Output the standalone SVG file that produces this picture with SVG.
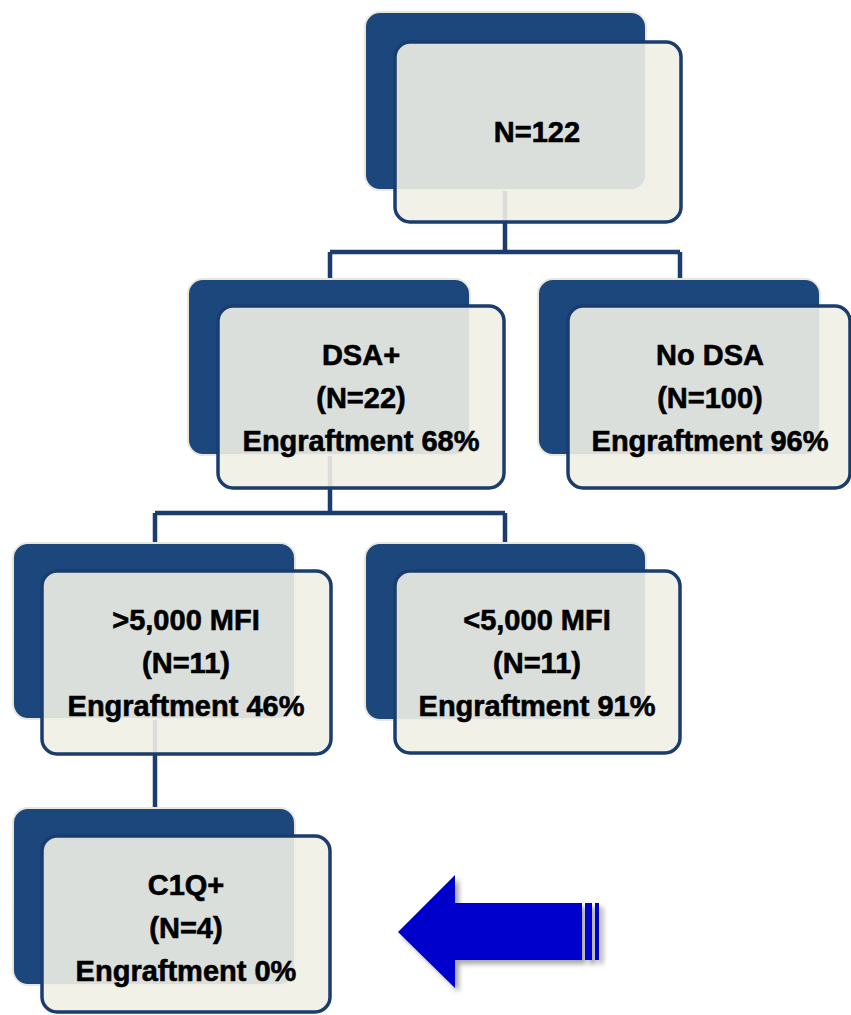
<svg xmlns="http://www.w3.org/2000/svg" width="851" height="1015" viewBox="0 0 851 1015">
<style>
.back{fill:#1C477D;stroke:#E9E7DC;stroke-width:2}
.front{fill:#F1EFE6;fill-opacity:0.9;stroke:#1A3D6E;stroke-width:3.5}
.conn{stroke:#1C3B6E;stroke-width:4.5;fill:none}
.t{font-family:"Liberation Sans",Arial,sans-serif;font-weight:bold;font-size:29px;fill:#000;stroke:#000;stroke-width:0.6;text-anchor:middle}
</style>
<defs>
<filter id="sh" x="-20%" y="-20%" width="140%" height="140%">
<feDropShadow dx="4" dy="4" stdDeviation="2.5" flood-color="#000" flood-opacity="0.35"/>
</filter>
</defs>
<rect width="851" height="1015" fill="#fff"/>
<g id="connectors" class="conn">
<path d="M505,190 V252 M330,252 H680 M330,252 V281 M680,252 V281"/>
<path d="M330,455 V513 M155,513 H505 M155,513 V544 M505,513 V544"/>
<path d="M155,718 V809"/>
</g>
<g id="n122">
<rect class="back" x="365" y="12" width="281" height="178" rx="15"/>
<rect class="front" x="395" y="42" width="286" height="180" rx="15"/>
<text class="t" x="537" y="142">N=122</text>
</g>
<g id="dsa">
<rect class="back" x="188" y="279" width="282" height="176" rx="15"/>
<rect class="front" x="218" y="306" width="286" height="182" rx="15"/>
<text class="t" x="361" y="365">DSA+</text>
<text class="t" x="361" y="408">(N=22)</text>
<text class="t" x="361" y="451">Engraftment 68%</text>
</g>
<g id="nodsa">
<rect class="back" x="538" y="279" width="282" height="176" rx="15"/>
<rect class="front" x="568" y="306" width="282" height="182" rx="15"/>
<text class="t" x="710" y="365">No DSA</text>
<text class="t" x="710" y="408">(N=100)</text>
<text class="t" x="710" y="451">Engraftment 96%</text>
</g>
<g id="gt5000">
<rect class="back" x="13" y="543" width="282" height="176" rx="15"/>
<rect class="front" x="42" y="571" width="289" height="183" rx="15"/>
<text class="t" x="186" y="630">&gt;5,000 MFI</text>
<text class="t" x="186" y="673">(N=11)</text>
<text class="t" x="186" y="716">Engraftment 46%</text>
</g>
<g id="lt5000">
<rect class="back" x="365" y="543" width="281" height="177" rx="15"/>
<rect class="front" x="395" y="571" width="285" height="182" rx="15"/>
<text class="t" x="537" y="630">&lt;5,000 MFI</text>
<text class="t" x="537" y="673">(N=11)</text>
<text class="t" x="537" y="716">Engraftment 91%</text>
</g>
<g id="c1q">
<rect class="back" x="13" y="808" width="282" height="177" rx="15"/>
<rect class="front" x="42" y="836" width="288" height="176" rx="15"/>
<text class="t" x="186" y="895">C1Q+</text>
<text class="t" x="186" y="938">(N=4)</text>
<text class="t" x="186" y="981">Engraftment 0%</text>
</g>
<g id="arrow" fill="#0000CC" filter="url(#sh)">
<polygon points="398,932 455,875 455,903 582,903 582,960 455,960 455,988"/>
<rect x="585" y="903" width="7" height="57"/>
<rect x="595" y="903" width="4" height="57"/>
</g>
</svg>
